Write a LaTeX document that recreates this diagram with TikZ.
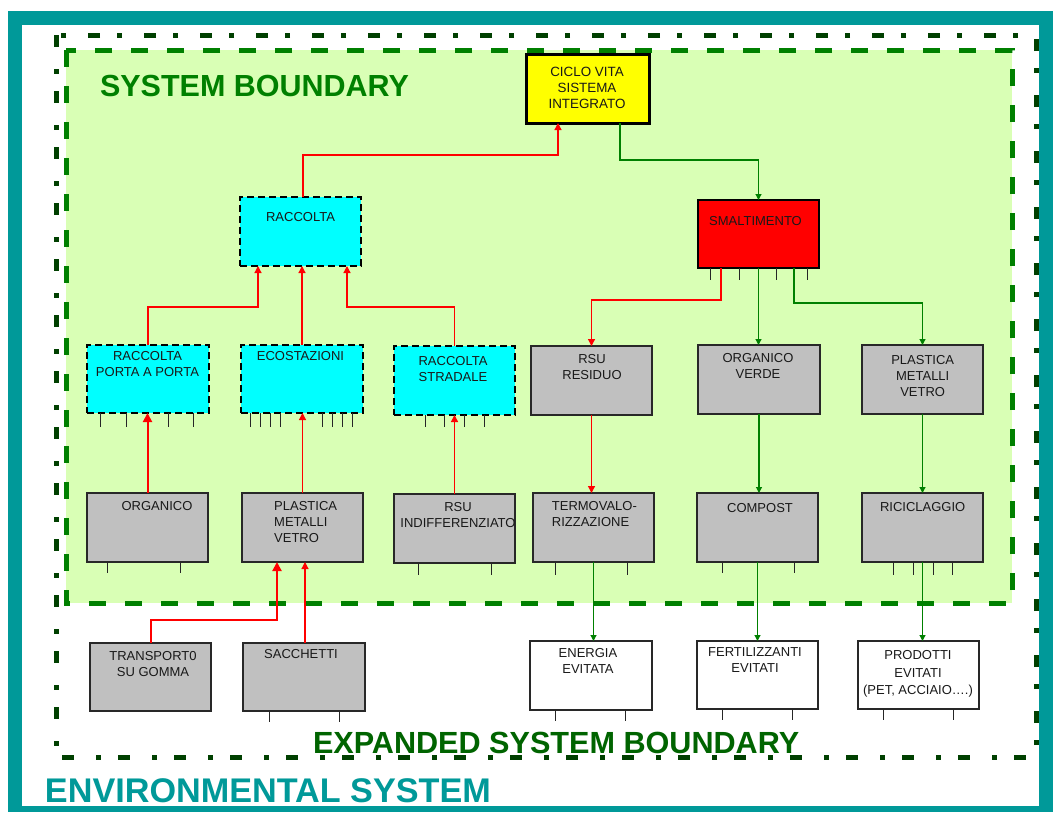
\documentclass[tikz,border=0pt]{standalone}
\usepackage{fontspec}
\setmainfont{Liberation Sans}
\usetikzlibrary{arrows.meta}

\definecolor{frameteal}{RGB}{0,153,153}
\definecolor{outergreen}{RGB}{0,64,0}
\definecolor{sysgreen}{RGB}{0,128,0}
\definecolor{sysfill}{RGB}{217,255,181}
\definecolor{exptext}{RGB}{0,100,0}
\definecolor{boxgray}{RGB}{192,192,192}
\definecolor{boxline}{RGB}{40,40,40}
\definecolor{boxcyan}{RGB}{0,255,255}
\definecolor{boxyellow}{RGB}{255,255,0}
\definecolor{boxred}{RGB}{255,0,0}
\definecolor{linkred}{RGB}{255,0,0}
\definecolor{linkgreen}{RGB}{0,128,0}
\definecolor{textdark}{RGB}{25,25,25}

% rectangular block given by its corners (x1,y1) (x2,y2)
\newcommand\block[6]{\node[#2, minimum width={#5-#3}, minimum height={#6-#4}] (#1) at ({(#3+#5)/2},{(#4+#6)/2}) {};}

\tikzset{
  base/.style={rectangle, inner sep=0pt, outer sep=0pt},
  graybox/.style={base, fill=boxgray, draw=boxline, line width=1.3pt},
  whitebox/.style={base, fill=white, draw=boxline, line width=1.3pt},
  cyanbox/.style={base, fill=boxcyan, draw=black, line width=2pt, dash pattern=on 7pt off 4pt},
  lifebox/.style={base, fill=boxyellow, draw=black, line width=3pt},
  disposalbox/.style={base, fill=boxred, draw=black, line width=1.5pt},
  txt/.style={inner sep=0pt, align=center, text=textdark, font=\fontsize{13}{16}\selectfont},
  txtl/.style={txt, align=left},
  tick/.style={draw=black!85, line width=0.9pt},
  redlink/.style={draw=linkred, line width=1.25pt, -{Triangle[length=7pt,width=7pt]}},
  redthick/.style={draw=linkred, line width=2pt, -{Triangle[length=9pt,width=9pt]}},
  greenlink/.style={draw=linkgreen, line width=1.1pt, -{Triangle[length=6pt,width=6pt]}},
}

\begin{document}
\begin{tikzpicture}[x=1pt,y=-1pt]
\useasboundingbox (0,0) rectangle (1053,812);

% outer frame of the environmental system
\fill[frameteal] (8,11) rectangle (1053,812);
\fill[white] (22,25) rectangle (1039,806);

% expanded system boundary
\draw[outergreen, line width=5pt, dash pattern=on 12pt off 22pt on 5pt off 17pt] (56,35) rectangle (1036,757);

% system boundary
\fill[sysfill] (66,50) rectangle (1012,603);
\draw[sysgreen, line width=5pt, dash pattern=on 17pt off 19pt] (66,50) rectangle (1012,603);

% titles
\node[base, anchor=base west, text=sysgreen, font=\fontsize{30.5}{36}\selectfont\bfseries] (systitle) at (100,96) {SYSTEM BOUNDARY};
\node[base, anchor=base west, text=exptext, font=\fontsize{30.6}{36}\selectfont\bfseries] (exptitle) at (313,753) {EXPANDED SYSTEM BOUNDARY};
\node[base, anchor=base west, text=frameteal, font=\fontsize{34.2}{40}\selectfont\bfseries] (envtitle) at (45,802) {ENVIRONMENTAL SYSTEM};

% blocks
\block{ciclo}{lifebox}{526}{54}{649}{123}
\block{racc}{cyanbox}{240}{197}{361}{266}
\block{smalt}{disposalbox}{698}{200}{819}{268}

\block{porta}{cyanbox}{87}{345}{209}{413}
\block{eco}{cyanbox}{241}{345}{363}{413}
\block{strad}{cyanbox}{394}{346}{515}{415}
\block{rsuR}{graybox}{531}{346}{652}{415}
\block{verde}{graybox}{698}{345}{820}{414}
\block{plasR}{graybox}{862}{345}{983}{414}

\block{orgL}{graybox}{87}{493}{208}{562}
\block{plasL}{graybox}{242}{493}{363}{562}
\block{rsuI}{graybox}{394}{494}{515}{563}
\block{termo}{graybox}{533}{493}{654}{562}
\block{compost}{graybox}{697}{493}{818}{562}
\block{ricic}{graybox}{862}{493}{983}{562}

\block{trans}{graybox}{90}{643}{211}{711}
\block{sacch}{graybox}{243}{643}{365}{711}
\block{energia}{whitebox}{530}{641}{652}{710}
\block{fert}{whitebox}{697}{641}{818}{709}
\block{prod}{whitebox}{858}{641}{979}{709}

% block texts
\node[txt, anchor=north, font=\fontsize{13.4}{16}\selectfont] (ciclo-t) at (587,66.5) {CICLO VITA\\SISTEMA\\INTEGRATO};
\node[txt, anchor=north] (racc-t) at (300.5,212) {RACCOLTA};
\node[txt, anchor=north] (smalt-t) at (755.5,216.5) {SMALTIMENTO};
\node[txt, anchor=north] (porta-t) at (147.5,351) {RACCOLTA\\PORTA A PORTA};
\node[txt, anchor=north] (eco-t) at (300.5,351) {ECOSTAZIONI};
\node[txt, anchor=north] (strad-t) at (453,356.5) {RACCOLTA\\STRADALE};
\node[txt, anchor=north] (rsuR-t) at (592,354.5) {RSU\\RESIDUO};
\node[txt, anchor=north] (verde-t) at (758,353.7) {ORGANICO\\VERDE};
\node[txt, anchor=north] (plasR-t) at (922.7,355.5) {PLASTICA\\METALLI\\VETRO};
\node[txt, anchor=north] (orgL-t) at (157,501.5) {ORGANICO};
\node[txtl, anchor=north west] (plasL-t) at (274,501.3) {PLASTICA\\METALLI\\VETRO};
\node[txt, anchor=north] (rsuI-t) at (458,502.5) {RSU\\INDIFFERENZIATO};
\node[txtl, anchor=north west] (termo-t) at (551.7,501.5) {TERMOVALO-\\RIZZAZIONE};
\node[txt, anchor=north] (compost-t) at (760,503.5) {COMPOST};
\node[txt, anchor=north] (ricic-t) at (922.7,502.5) {RICICLAGGIO};
\node[txt, anchor=north] (trans-t) at (153,651.5) {TRANSPORT0\\SU GOMMA};
\node[txt, anchor=north] (sacch-t) at (301,649.5) {SACCHETTI};
\node[txt, anchor=north] (energia-t) at (588,648.5) {ENERGIA\\EVITATA};
\node[txt, anchor=north] (fert-t) at (755,647.5) {FERTILIZZANTI\\EVITATI};
\node[txt, anchor=north, font=\fontsize{13}{17.5}\selectfont] (prod-t) at (918,650.5) {PRODOTTI\\EVITATI\\(PET, ACCIAIO….)};

% small ticks hanging under the blocks
\foreach \x in {100,126,168,193} \draw[tick] (porta.south -| \x,0) -- ++(0,14);
\foreach \x in {250,260,270,280,322,332,342,352} \draw[tick] (eco.south -| \x,0) -- ++(0,14);
\foreach \x in {425,444,464,484} \draw[tick] (strad.south -| \x,0) -- ++(0,12);
\foreach \x in {710,739,776,807} \draw[tick] (smalt.south -| \x,0) -- ++(0,12);
\foreach \x in {107,180} \draw[tick] (orgL.south -| \x,0) -- ++(0,11);
\foreach \x in {418,491} \draw[tick] (rsuI.south -| \x,0) -- ++(0,12);
\foreach \x in {555,627} \draw[tick] (termo.south -| \x,0) -- ++(0,13);
\foreach \x in {722,794} \draw[tick] (compost.south -| \x,0) -- ++(0,11);
\foreach \x in {893,913,933,952} \draw[tick] (ricic.south -| \x,0) -- ++(0,13);
\foreach \x in {269,339} \draw[tick] (sacch.south -| \x,0) -- ++(0,11);
\foreach \x in {555,625} \draw[tick] (energia.south -| \x,0) -- ++(0,11);
\foreach \x in {722,792} \draw[tick] (fert.south -| \x,0) -- ++(0,11);
\foreach \x in {883,953} \draw[tick] (prod.south -| \x,0) -- ++(0,11);

% collection side
\draw[redthick] (orgL.north) -- (orgL.north |- porta.south);
\draw[redlink] (plasL.north) -- (plasL.north |- eco.south);
\draw[redlink] (rsuI.north) -- (rsuI.north |- strad.south);
\draw[redlink] (porta.north) -- ++(0,-38) -| ([xshift=-42.5pt]racc.south);
\draw[redlink] (eco.north) -- (eco.north |- racc.south);
\draw[redlink] (strad.north) -- ++(0,-39) -| ([xshift=46.5pt]racc.south);
\draw[redlink] ([xshift=2.5pt]racc.north) -- ++(0,-42) -| ([xshift=-29.5pt]ciclo.south);
\draw[redthick] (trans.north) -- ++(0,-23) -| ([xshift=-25.5pt]plasL.south);
\draw[redlink] ([xshift=1pt]sacch.north) -- ([xshift=1pt]sacch.north |- plasL.south);

% disposal side
\draw[greenlink] ([xshift=32.5pt]ciclo.south) -- ++(0,37) -| (smalt.north);
\draw[redlink] ([xshift=-37.5pt]smalt.south) -- ++(0,32) -| (rsuR.north);
\draw[greenlink] (smalt.south) -- (smalt.south |- verde.north);
\draw[greenlink] ([xshift=35.5pt]smalt.south) -- ++(0,35) -| (plasR.north);
\draw[redlink] (rsuR.south) -- (rsuR.south |- termo.north);
\draw[greenlink] (verde.south) -- (verde.south |- compost.north);
\draw[greenlink] (plasR.south) -- (plasR.south |- ricic.north);
\draw[greenlink] (termo.south) -- (termo.south |- energia.north);
\draw[greenlink] (compost.south) -- (compost.south |- fert.north);
\draw[greenlink] (ricic.south) -- (ricic.south |- prod.north);

\end{tikzpicture}
\end{document}
